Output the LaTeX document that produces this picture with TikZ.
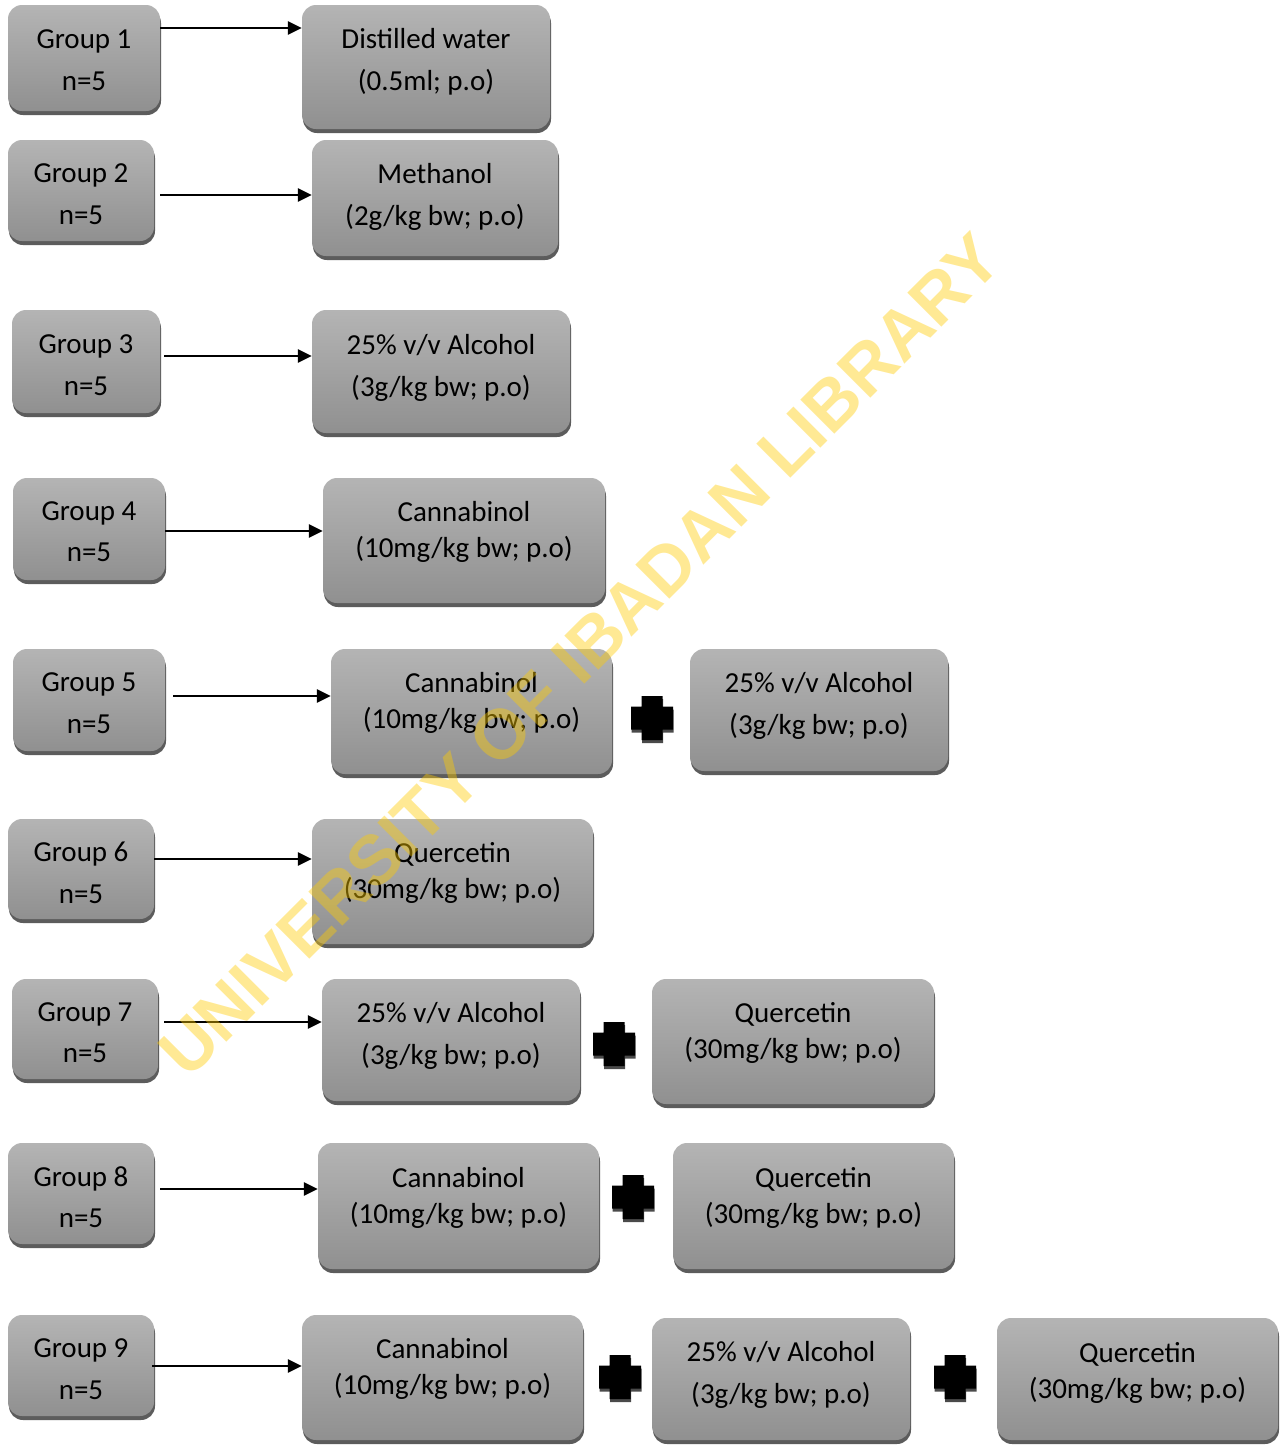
\documentclass[tikz,border=0pt]{standalone}
\usepackage{fontspec}
\setmainfont{Carlito}
\newfontfamily\wmfont{Liberation Sans}
\usetikzlibrary{arrows.meta,calc}
\definecolor{boxtop}{RGB}{180,180,180}
\definecolor{boxbot}{RGB}{144,144,144}
\definecolor{boxshade}{RGB}{92,92,92}
\definecolor{wmark}{RGB}{255,204,0}
\tikzset{
  boxbody/.style={rounded corners=14pt, top color=boxtop, bottom color=boxbot, draw=none, inner sep=0pt},
  boxshadow/.style={rounded corners=14pt, fill=boxshade, draw=none, inner sep=0pt},
  txt/.style={anchor=base, inner sep=0pt, font=\fontsize{29}{34}\selectfont},
  arr/.style={line width=2.6pt, -{Triangle[length=14pt,width=13pt]}},
  crossfill/.style={fill=black},
  crossshadow/.style={fill=boxshade!80!black},
}
% name, l, t, r, b, y1, y2, line1, line2
\newcommand\drawbox[9]{%
  \node[boxshadow, minimum width={(#4-#2)*1pt}, minimum height={(#5-#3-4)*1pt}]
    (#1s) at ({(#2+#4)/2+1},{(#3+#5-4)/2+4}) {};
  \node[boxbody, minimum width={(#4-#2)*1pt}, minimum height={(#5-#3-4)*1pt}]
    (#1) at ({(#2+#4)/2},{(#3+#5-4)/2}) {};
  \node[txt] (#1a) at ({(#2+#4)/2},{#6+10}) {#8};
  \node[txt] (#1b) at ({(#2+#4)/2},{#7+10}) {#9};
}
% from, to, y, start offset
\newcommand\drawarrow[4]{%
  \draw[arr] ($(#1.east |- 0,#3)+(#4,0)$) -- (#2.west |- 0,#3);
}
\newcommand\crosspath{(-10.5,-22) -- (10.5,-22) -- (10.5,-11.5) -- (21,-11.5) -- (21,11.5) -- (10.5,11.5) -- (10.5,22) -- (-10.5,22) -- (-10.5,11.5) -- (-21,11.5) -- (-21,-11.5) -- (-10.5,-11.5) -- cycle}
\newcommand\drawcross[2]{%
  \begin{scope}[shift={(#1,#2)}]
    \fill[crossshadow] [shift={(0.5,3)}] \crosspath;
    \fill[crossfill] \crosspath;
  \end{scope}
}
\begin{document}
\begin{tikzpicture}[x=1pt,y=-1pt]
\useasboundingbox (0,0) rectangle (1284,1446);
\fill[white] (0,0) rectangle (1284,1446);

\drawbox{g1}{8}{5}{160}{115}{38}{80}{Group 1}{n=5}
\drawbox{d1}{302}{5}{550}{133}{38}{80}{Distilled water}{(0.5ml; p.o)}
\drawbox{g2}{8}{140}{154}{245}{172}{214}{Group 2}{n=5}
\drawbox{d2}{312}{140}{558}{260}{173}{215}{Methanol}{(2g/kg bw; p.o)}
\drawbox{g3}{12}{310}{160}{417}{343}{385}{Group 3}{n=5}
\drawbox{d3}{312}{310}{570}{437}{344}{386}{25\% v/v Alcohol}{(3g/kg bw; p.o)}
\drawbox{g4}{13}{478}{165}{584}{510}{551}{Group 4}{n=5}
\drawbox{d4}{323}{478}{605}{607}{511}{547}{Cannabinol}{(10mg/kg bw; p.o)}
\drawbox{g5}{13}{649}{165}{755}{681}{723}{Group 5}{n=5}
\drawbox{d5}{331}{649}{612}{778}{682}{718}{Cannabinol}{(10mg/kg bw; p.o)}
\drawbox{e5}{690}{649}{948}{775}{682}{724}{25\% v/v Alcohol}{(3g/kg bw; p.o)}
\drawbox{g6}{8}{819}{154}{923}{851}{893}{Group 6}{n=5}
\drawbox{d6}{312}{819}{593}{948}{852}{888}{Quercetin}{(30mg/kg bw; p.o)}
\drawbox{g7}{12}{979}{158}{1083}{1011}{1052}{Group 7}{n=5}
\drawbox{d7}{322}{979}{580}{1105}{1012}{1054}{25\% v/v Alcohol}{(3g/kg bw; p.o)}
\drawbox{e7}{652}{979}{934}{1108}{1012}{1048}{Quercetin}{(30mg/kg bw; p.o)}
\drawbox{g8}{8}{1143}{154}{1248}{1176}{1217}{Group 8}{n=5}
\drawbox{d8}{318}{1143}{599}{1273}{1177}{1213}{Cannabinol}{(10mg/kg bw; p.o)}
\drawbox{e8}{673}{1143}{954}{1273}{1177}{1213}{Quercetin}{(30mg/kg bw; p.o)}
\drawbox{g9}{8}{1315}{154}{1420}{1347}{1389}{Group 9}{n=5}
\drawbox{d9}{302}{1315}{583}{1444}{1348}{1384}{Cannabinol}{(10mg/kg bw; p.o)}
\drawbox{e9}{652}{1318}{910}{1444}{1351}{1393}{25\% v/v Alcohol}{(3g/kg bw; p.o)}
\drawbox{f9}{997}{1318}{1278}{1444}{1352}{1388}{Quercetin}{(30mg/kg bw; p.o)}

\drawarrow{g1}{d1}{28}{0}
\drawarrow{g2}{d2}{195}{6}
\drawarrow{g3}{d3}{356}{4}
\drawarrow{g4}{d4}{531}{0}
\drawarrow{g5}{d5}{696}{8}
\drawarrow{g6}{d6}{859}{0}
\drawarrow{g7}{d7}{1022}{6}
\drawarrow{g8}{d8}{1189}{6}
\drawarrow{g9}{d9}{1366}{-2}

\drawcross{652}{718}
\drawcross{614}{1044}
\drawcross{633}{1197}
\drawcross{620}{1377}
\drawcross{955}{1377}

\node[rotate=45, text=wmark, opacity=0.42, inner sep=0pt,
      font=\wmfont\bfseries\fontsize{70}{70}\selectfont] (wm) at (580,655) {UNIVERSITY OF IBADAN LIBRARY};
\end{tikzpicture}
\end{document}
